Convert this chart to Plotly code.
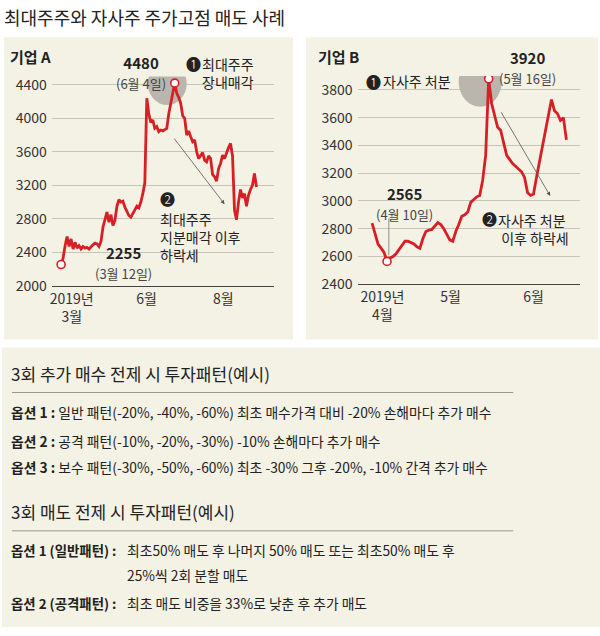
import plotly.graph_objects as go

# ---------------- data ----------------
a_values = [2255, 2330, 2480, 2590, 2470, 2560, 2440, 2520, 2450, 2480,
            2440, 2470, 2450, 2460, 2440, 2470, 2490, 2510, 2500, 2470,
            2530, 2700, 2780, 2880, 2760, 2850, 2720, 2780, 2950, 3030,
            3000, 3010, 2940, 2880, 2840, 2820, 2860, 2900, 2950, 2930,
            3000, 3100, 3230, 4240, 4050, 3950, 3980, 3880, 3900, 3840,
            3860, 3850, 3870, 3880, 4050, 4200, 4300, 4420, 4300, 4250,
            4180, 4030, 4000, 3800, 3850, 3780, 3720, 3740, 3600, 3520,
            3560, 3590, 3500, 3480, 3550, 3520, 3330, 3300, 3250, 3400,
            3460, 3560, 3520, 3600, 3650, 3700, 3550, 2900, 2790, 3000,
            3150, 3050, 3100, 2950, 3080, 3150, 3200, 3340, 3180]
a_x = list(range(len(a_values)))
a_tickvals = [5.35, 42.85, 81.35]
a_ticktext = ["2019년<br>3월", "6월", "8월"]
a_yticks = [2000, 2400, 2800, 3200, 3600, 4000, 4400]

b_values = [2840, 2770, 2690, 2660, 2630, 2565, 2590, 2600, 2620, 2650,
            2680, 2710, 2710, 2700, 2690, 2670, 2660, 2730, 2780, 2790,
            2795, 2820, 2845, 2830, 2800, 2760, 2720, 2710, 2780, 2830,
            2890, 2900, 2920, 2990, 3010, 3030, 3040, 3150, 3330, 3880,
            3700, 3620, 3530, 3510, 3420, 3330, 3300, 3270, 3250, 3230,
            3210, 3170, 3060, 3040, 3050, 3170, 3280, 3380, 3500, 3620,
            3730, 3650, 3630, 3580, 3600, 3440]
b_x = list(range(len(b_values)))
b_tickvals = [3.47, 26.23, 54.0]
b_ticktext = ["2019년<br>4월", "5월", "6월"]
b_yticks = [2400, 2600, 2800, 3000, 3200, 3400, 3600, 3800]

# ---------------- styles ----------------
FONT = "Noto Sans CJK KR, Noto Sans, DejaVu Sans, sans-serif"
RED = "#d71f26"
BEIGE = "#f4f1e5"
GRID = "#c8c4ba"
TXT = "#222222"
W, H = 600, 636


def px(x):
    return x / W


def py(y):
    return 1 - y / H


fig = go.Figure()

fig.add_trace(go.Scatter(x=a_x, y=a_values, mode="lines",
                         line=dict(color=RED, width=2.8), xaxis="x", yaxis="y",
                         hoverinfo="skip"))
fig.add_trace(go.Scatter(x=b_x, y=b_values, mode="lines",
                         line=dict(color=RED, width=2.8), xaxis="x2", yaxis="y2",
                         hoverinfo="skip"))

a_max = a_values.index(max(a_values))
a_min = a_values.index(min(a_values))
b_max = b_values.index(max(b_values))
b_min = b_values.index(min(b_values))

marker = dict(size=8, color="white", line=dict(color=RED, width=1.6))
fig.add_trace(go.Scatter(x=[a_x[a_max], a_x[a_min]], y=[a_values[a_max], a_values[a_min]],
                         mode="markers", marker=marker, xaxis="x", yaxis="y", hoverinfo="skip"))
fig.add_trace(go.Scatter(x=[b_x[b_max], b_x[b_min]], y=[b_values[b_max], b_values[b_min]],
                         mode="markers", marker=marker, xaxis="x2", yaxis="y2", hoverinfo="skip"))

axis_common = dict(showgrid=False, zeroline=False, showline=True, linecolor="#444",
                   linewidth=1, ticks="", tickfont=dict(family=FONT, size=14, color="#333"),
                   tickmode="array", fixedrange=True)
yaxis_common = dict(showgrid=True, gridcolor=GRID, gridwidth=1, zeroline=False,
                    showline=False, ticks="", ticklabelstandoff=4,
                    tickfont=dict(family=FONT, size=14, color="#333"),
                    tickmode="array", fixedrange=True)

fig.update_layout(
    width=W, height=H, margin=dict(l=0, r=0, t=0, b=0),
    paper_bgcolor="white", plot_bgcolor="rgba(0,0,0,0)",
    showlegend=False, hovermode=False,
    font=dict(family=FONT, color=TXT),
    xaxis=dict(domain=[px(50), px(273)], range=[-4.65, 106.85],
               tickvals=a_tickvals, ticktext=a_ticktext, anchor="y", **axis_common),
    yaxis=dict(domain=[py(288.3), py(74.8)], range=[2000, 4500],
               tickvals=a_yticks, anchor="x", **yaxis_common),
    xaxis2=dict(domain=[px(356.7), px(580)], range=[-4.87, 69.57],
                tickvals=b_tickvals, ticktext=b_ticktext, anchor="y2", **axis_common),
    yaxis2=dict(domain=[py(286.7), py(74.4)], range=[2400, 3900],
                tickvals=b_yticks, anchor="x2", **yaxis_common),
)

shapes = [
    dict(type="rect", xref="paper", yref="paper", x0=px(2), x1=px(292), y0=py(343), y1=py(35),
         fillcolor=BEIGE, line=dict(width=0), layer="below"),
    dict(type="rect", xref="paper", yref="paper", x0=px(305), x1=px(598), y0=py(343), y1=py(35),
         fillcolor=BEIGE, line=dict(width=0), layer="below"),
    dict(type="rect", xref="paper", yref="paper", x0=0, x1=1, y0=0, y1=py(351),
         fillcolor=BEIGE, line=dict(width=0), layer="below"),
    dict(type="circle", xref="x", yref="y", xsizemode="pixel", ysizemode="pixel",
         xanchor=a_x[a_max], yanchor=a_values[a_max], x0=-27, x1=12, y0=-22, y1=21,
         fillcolor="#bab6ae", line=dict(width=0), layer="between"),
    dict(type="circle", xref="x2", yref="y2", xsizemode="pixel", ysizemode="pixel",
         xanchor=b_x[b_max], yanchor=b_values[b_max], x0=-30, x1=13, y0=-28, y1=22,
         fillcolor="#bab6ae", line=dict(width=0), layer="between"),
    dict(type="line", xref="x2", yref="y2", ysizemode="pixel",
         x0=b_x[b_min] + 0.6, x1=b_x[b_min] + 0.6, yanchor=b_values[b_min], y0=6, y1=43,
         line=dict(color="#777", width=0.8)),
    dict(type="line", xref="paper", yref="paper", x0=px(10), x1=px(513), y0=py(397), y1=py(397),
         line=dict(color="#9a9890", width=1)),
    dict(type="line", xref="paper", yref="paper", x0=px(10), x1=px(513), y0=py(538), y1=py(538),
         line=dict(color="#9a9890", width=1)),
]
fig.update_layout(shapes=shapes)

fig.add_annotation(x=82.0, y=2975, ax=56.2, ay=3775, xref="x", yref="y", axref="x", ayref="y",
                   showarrow=True, arrowhead=2, arrowsize=1, arrowwidth=0.8,
                   arrowcolor="#555", text="")
fig.add_annotation(x=59.6, y=3036, ax=42.9, ay=3649, xref="x2", yref="y2", axref="x2", ayref="y2",
                   showarrow=True, arrowhead=2, arrowsize=1, arrowwidth=0.8,
                   arrowcolor="#555", text="")


def txt(x, y, s, size, xanchor="left", color=TXT):
    fig.add_annotation(x=px(x), y=py(y), xref="paper", yref="paper", text=s,
                       showarrow=False, xanchor=xanchor, yanchor="middle",
                       align=xanchor, borderpad=0,
                       font=dict(family=FONT, size=size, color=color))


def small(s):
    return "<span style='font-size:13px;color:#444'>" + s + "</span>"


# title
txt(1, 14, "최대주주와 자사주 주가고점 매도 사례", 18)

# chart A texts
txt(7, 55, "<b>기업 A</b>", 15)
txt(139, 71, "<b>4480</b><br>" + small("(6월 4일)"), 15, "center")
txt(192.5, 62, "❶", 15, "center")
txt(200, 71, "최대주주<br>장내매각", 14)
txt(166.5, 199, "❷", 15, "center")
txt(158, 239, "최대주주<br>지분매각 이후<br>하락세", 14)
txt(122, 264, "<b>2255</b><br>" + small("(3월 12일)"), 15, "center")

# chart B texts
txt(316, 55, "<b>기업 B</b>", 15)
txt(527, 66, "<b>3920</b><br>" + small("(5월 16일)"), 15, "center")
txt(373, 80, "❶", 15, "center")
txt(381, 80, "자사주 처분", 14)
txt(404, 204, "<b>2565</b><br>" + small("(4월 10일)"), 15, "center")
txt(489, 220, "❷", 15, "center")
txt(497, 230, "자사주 처분<br> 이후 하락세", 14)

# lower box
BODY = 13.8
txt(8, 378, "3회 추가 매수 전제 시 투자패턴(예시)", 17)
txt(8, 417, "<b>옵션 1 :</b> 일반 패턴(-20%, -40%, -60%) 최초 매수가격 대비 -20% 손해마다 추가 매수", BODY)
txt(8, 446, "<b>옵션 2 :</b> 공격 패턴(-10%, -20%, -30%) -10% 손해마다 추가 매수", BODY)
txt(8, 473, "<b>옵션 3 :</b> 보수 패턴(-30%, -50%, -60%) 최초 -30% 그후 -20%, -10% 간격 추가 매수", BODY)
txt(8, 518, "3회 매도 전제 시 투자패턴(예시)", 17)
txt(8, 558, "<b>옵션 1 (일반패턴) :</b>", 13.4)
txt(124, 558, "최초50% 매도 후 나머지 50% 매도 또는 최초50% 매도 후", BODY)
txt(124, 583, "25%씩 2회 분할 매도", BODY)
txt(8, 612, "<b>옵션 2 (공격패턴) :</b>", 13.4)
txt(124, 612, "최초 매도 비중을 33%로 낮춘 후 추가 매도", BODY)

fig.write_html("out.html", config={"displayModeBar": False, "staticPlot": True},
               post_script="document.body.style.margin='0px';document.body.style.overflow='hidden';")
